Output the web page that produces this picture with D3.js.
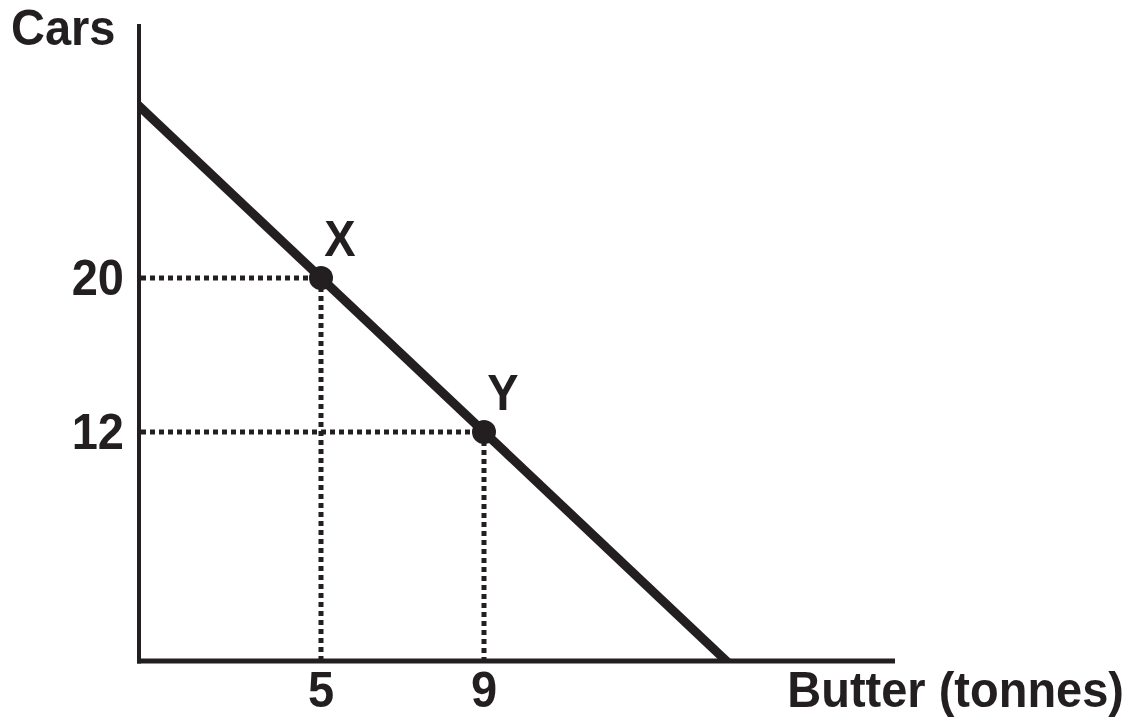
<!DOCTYPE html>
<html>
<head>
<meta charset="utf-8">
<script src="https://cdn.jsdelivr.net/npm/d3@7"></script>
<style>
  html, body { margin: 0; padding: 0; background: #fff; }
  text { font-family: "Liberation Sans", Arial, sans-serif; font-weight: bold; fill: #231f20; }
</style>
</head>
<body>
<div id="chart"></div>
<script>
"use strict";

const width = 1138;
const height = 718;
const ink = "#231f20";

// production possibility frontier: cars = 30 - 2 * butter
const frontierButter = [0, 15];
const frontierCars = [30, 0];

// labelled points on the frontier
const pointNames = ["X", "Y"];
const pointButter = [5, 9];
const pointCars = [20, 12];

// tick labels
const xTicks = [5, 9];
const yTicks = [20, 12];

// axis placement (pixels)
const axisLeft = 139;
const axisBottom = 661;
const axisTop = 24;
const axisRight = 895;

// scales
const x = d3.scaleLinear().domain([0, 15]).range([117.25, 728.5]);
const y = d3.scaleLinear().domain([0, 30]).range([663, 85.5]);

// helper for slightly tall lettering
function label(g, txt, px, py, anchor) {
    return g.append("text")
        .attr("transform", "translate(" + px + "," + py + ") scale(1,1.05)")
        .attr("text-anchor", anchor)
        .style("font-size", "47px")
        .text(txt);
}

const svg = d3.select("#chart").append("svg")
    .attr("width", width)
    .attr("height", height);

// clip so the frontier stops at the axes
svg.append("clipPath").attr("id", "plot")
    .append("rect")
    .attr("x", axisLeft)
    .attr("y", 0)
    .attr("width", width - axisLeft)
    .attr("height", axisBottom);

const g = svg.append("g");

// dotted guide lines
pointNames.forEach((n, i) => {
    g.append("line")
        .attr("x1", axisLeft + 2).attr("x2", x(pointButter[i]))
        .attr("y1", y(pointCars[i])).attr("y2", y(pointCars[i]))
        .attr("stroke", ink).attr("stroke-width", 5)
        .attr("stroke-dasharray", "5,4");
    g.append("line")
        .attr("x1", x(pointButter[i])).attr("x2", x(pointButter[i]))
        .attr("y1", y(pointCars[i])).attr("y2", axisBottom - 2)
        .attr("stroke", ink).attr("stroke-width", 5)
        .attr("stroke-dasharray", "5,4");
});

// frontier line
g.append("line")
    .attr("clip-path", "url(#plot)")
    .attr("x1", x(frontierButter[0])).attr("y1", y(frontierCars[0]))
    .attr("x2", x(frontierButter[1])).attr("y2", y(frontierCars[1]))
    .attr("stroke", ink)
    .attr("stroke-width", 9);

// axes
g.append("line")
    .attr("x1", axisLeft).attr("x2", axisLeft)
    .attr("y1", axisTop).attr("y2", axisBottom + 2.5)
    .attr("stroke", ink).attr("stroke-width", 4);
g.append("line")
    .attr("x1", axisLeft - 2).attr("x2", axisRight)
    .attr("y1", axisBottom).attr("y2", axisBottom)
    .attr("stroke", ink).attr("stroke-width", 5);

// points
g.selectAll("circle.pt")
    .data(pointNames)
    .enter()
    .append("circle")
    .attr("class", "pt")
    .attr("cx", (d, i) => x(pointButter[i]))
    .attr("cy", (d, i) => y(pointCars[i]))
    .attr("r", 12)
    .attr("fill", ink);

// point labels
pointNames.forEach((n, i) => {
    label(g, n, x(pointButter[i]) + 19, y(pointCars[i]) - 22, "middle");
});

// tick labels
xTicks.forEach(t => label(g, t, x(t), 707, "middle"));
yTicks.forEach(t => label(g, t, 124, y(t) + 17, "end"));

// axis titles
label(g, "Cars", 11, 45, "start");
label(g, "Butter (tonnes)", 1124, 707, "end");
</script>
</body>
</html>
